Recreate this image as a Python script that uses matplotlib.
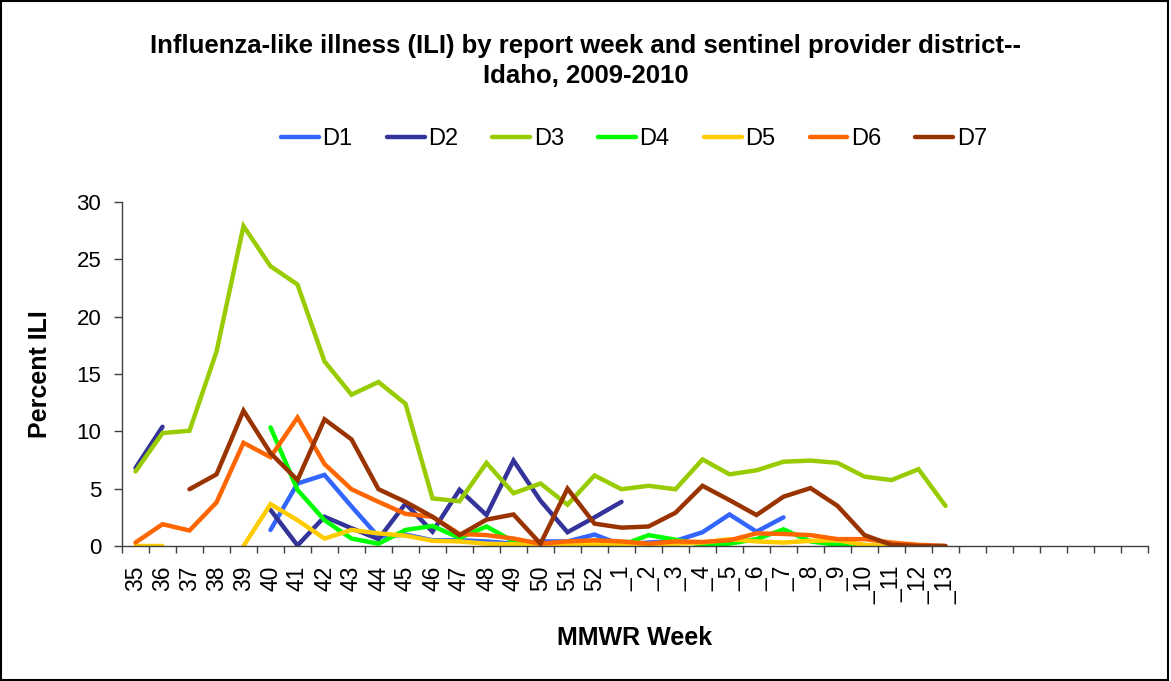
import numpy as np
import matplotlib.pyplot as plt
from matplotlib.patches import Rectangle

plt.rcParams['font.family'] = ['Liberation Sans', 'DejaVu Sans']

nan = np.nan
weeks = [str(w) for w in range(35, 53)] + ['_' + str(w) for w in range(1, 14)] + [''] * 7

d1 = [nan, nan, nan, nan, nan, 1.4, 5.45, 6.2, 3.45, 0.8, 1.0, 0.5, 0.5, 0.4, 0.2, 0.4, 0.4, 1.0,
      0.1, 0.3, 0.45, 1.2, 2.75, 1.25, 2.5, nan, nan, nan, nan, nan, nan]
d2 = [6.8, 10.4, nan, nan, nan, 3.15, 0.05, 2.55, 1.55, 0.6, 3.7, 1.25, 4.9, 2.7, 7.45, 3.95, 1.2, 2.5,
      3.85, nan, nan, nan, nan, nan, nan, nan, nan, nan, nan, nan, nan]
d3 = [6.5, 9.85, 10.05, 16.95, 27.9, 24.4, 22.8, 16.1, 13.2, 14.3, 12.4, 4.15, 3.9, 7.25, 4.6, 5.45, 3.6, 6.15,
      4.95, 5.25, 4.95, 7.55, 6.25, 6.6, 7.35, 7.45, 7.25, 6.05, 5.75, 6.7, 3.5]
d4 = [nan, nan, nan, nan, nan, 10.35, 4.9, 2.25, 0.65, 0.2, 1.4, 1.75, 0.7, 1.7, 0.4, 0.05, 0.2, 0.2,
      0.05, 0.95, 0.55, 0.1, 0.2, 0.6, 1.45, 0.4, 0.1, 0.1, nan, nan, nan]
d5 = [0, 0, nan, nan, 0, 3.65, 2.25, 0.65, 1.4, 1.1, 0.9, 0.45, 0.4, 0.2, 0.15, 0.1, 0.15, 0.2,
      0.2, 0.1, 0.2, 0.3, 0.6, 0.4, 0.3, 0.45, 0.5, 0.1, 0.0, nan, nan]
d6 = [0.3, 1.9, 1.35, 3.8, 9.0, 7.75, 11.2, 7.15, 4.95, 3.85, 2.8, 2.55, 1.05, 0.95, 0.65, 0.2, 0.4, 0.5,
      0.4, 0.2, 0.4, 0.35, 0.5, 1.1, 1.05, 0.95, 0.6, 0.6, 0.3, 0.1, 0.0]
d7 = [nan, nan, 4.95, 6.25, 11.8, 8.1, 5.75, 11.05, 9.3, 4.95, 3.85, 2.55, 0.95, 2.3, 2.75, 0.2, 5.0, 1.95,
      1.6, 1.7, 2.9, 5.25, 4.0, 2.7, 4.3, 5.05, 3.5, 0.95, 0.1, 0.0, 0.0]

series = {'D1': d1, 'D2': d2, 'D3': d3, 'D4': d4, 'D5': d5, 'D6': d6, 'D7': d7}
colors = ['#3366FF', '#333399', '#99CC00', '#00FF00', '#FFCC00', '#FF6600', '#993300']

fig = plt.figure(figsize=(11.71, 6.81), dpi=100)
ax = fig.add_axes([122 / 1171, (681 - 546) / 681, (1148 - 122) / 1171, 344 / 681])

x = np.arange(len(weeks))
for (name, vals), c in zip(series.items(), colors):
    ax.plot(x[:len(vals)], vals, color=c, lw=3.2, label=name, solid_capstyle='round', solid_joinstyle='miter')

ax.set_xlim(-0.5, len(weeks) - 0.5)
ax.set_ylim(0, 30)
ax.set_yticks(range(0, 31, 5))
ax.tick_params(axis='y', labelsize=16, length=6, width=1, color='#404040', pad=9)

ax.set_xticks(np.arange(-0.5, len(weeks), 1.0))
ax.set_xticklabels([])
ax.set_xticks(x, minor=True)
ax.set_xticklabels(weeks, minor=True, rotation=90, fontsize=16.5)
ax.tick_params(axis='x', which='major', length=5, width=1, color='#404040')
ax.tick_params(axis='x', which='minor', length=0, pad=14)

for s in ['top', 'right']:
    ax.spines[s].set_visible(False)
for s in ['left', 'bottom']:
    ax.spines[s].set_color('#404040')
    ax.spines[s].set_linewidth(1)

fig.text(0.5, 1 - 46 / 681, 'Influenza-like illness (ILI) by report week and sentinel provider district--',
         ha='center', va='center', fontsize=18.5, fontweight='bold')
fig.text(0.5, 1 - 76 / 681, 'Idaho, 2009-2010', ha='center', va='center', fontsize=18.5, fontweight='bold')
fig.text(40 / 1171, 1 - 374 / 681, 'Percent ILI', ha='center', va='center', rotation=90,
         fontsize=18, fontweight='bold')
fig.text(635 / 1171, 1 - 638 / 681, 'MMWR Week', ha='center', va='center', fontsize=18, fontweight='bold')

fig.legend(loc='center', bbox_to_anchor=(634 / 1171, 1 - 139 / 681), ncol=7, frameon=False,
           fontsize=17, handlelength=1.6, handletextpad=0.15, columnspacing=1.45)

fig.patches.append(Rectangle((1 / 1171, 1 / 681), 1167 / 1171, 679 / 681, transform=fig.transFigure,
                             fill=False, edgecolor='black', lw=1.5))

fig.savefig('out.png', dpi=100)
